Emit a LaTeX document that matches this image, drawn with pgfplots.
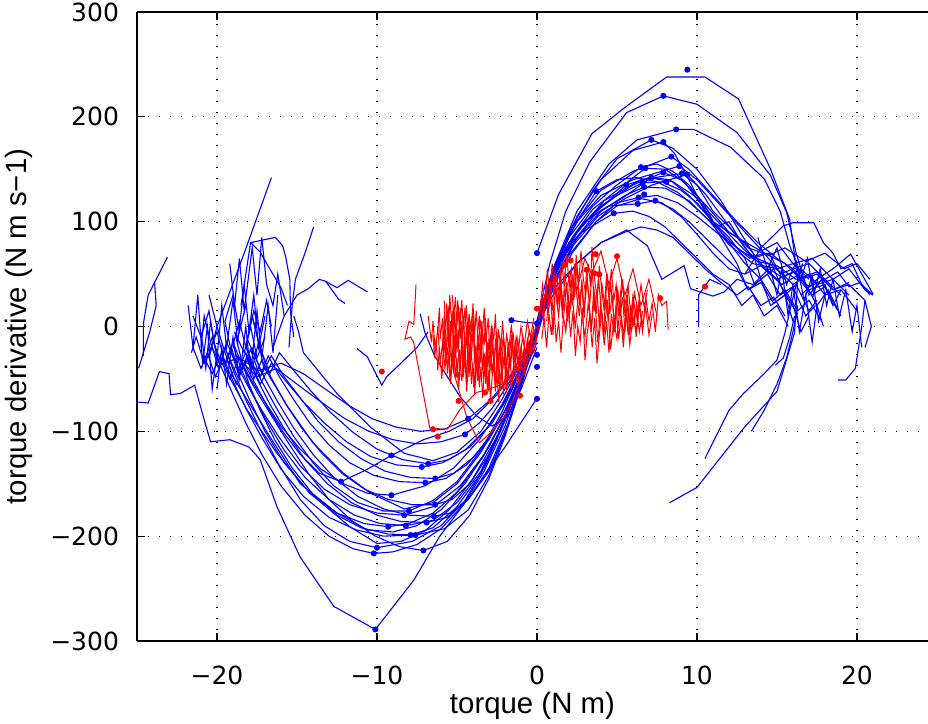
\documentclass[border=0pt]{standalone}
\usepackage{fontspec}
\setmainfont{Liberation Sans}
\newfontfamily\dejavu{DejaVu Sans}
\usepackage{pgfplots}
\pgfplotsset{compat=1.18}
\tikzset{bl/.style={blue, line width=0.55pt, mark=none},
         rd/.style={red, line width=0.5pt, mark=none},
         bdot/.style={only marks, mark=*, mark size=1.3pt, blue, mark options={draw=blue, fill=blue}},
         rdot/.style={only marks, mark=*, mark size=1.3pt, red, mark options={draw=red, fill=red}}}
\begin{document}
\begin{tikzpicture}
\begin{axis}[
  scale only axis, width=395.5pt, height=314.5pt,
  xmin=-25, xmax=24.44, ymin=-300, ymax=300,
  axis x line=box, axis y line=left,
  every outer y axis line/.append style={-},
  every inner y axis line/.append style={-},
  axis line style={-, line width=0.8pt, black},
  xtick={-20,-10,0,10,20}, xticklabels={−20,−10,0,10,20},
  ytick={-300,-200,-100,0,100,200,300}, yticklabels={−300,−200,−100,0,100,200,300},
  tick align=inside, major tick length=4pt, tick style={black, line width=0.6pt},
  ticklabel style={font=\dejavu\fontsize{12.5}{15}\selectfont},
  xticklabel shift=9pt, yticklabel shift=5.5pt,
  grid=major, grid style={black, line width=0.6pt, dash pattern=on 0.6pt off 4.9pt},
  xlabel={torque (N m)}, ylabel={torque derivative (N m s−1)},
  label style={font=\fontsize{14.7}{17}\selectfont},
  xlabel style={at={(axis description cs:0.5,-0.1033)}, anchor=center},
  ylabel style={at={(axis description cs:-0.149,0.5)}, anchor=center},
]
% ---------------- positive arcs (blue)
\addplot[bl] coordinates {(0,70) (1.35,126) (3.44,184) (5.5,209) (8.1,238) (10.5,238) (12.6,217) (14.6,150) (15.8,102) (16.3,45) (16.1,-6) (15,-62) (13,-95.5) (10,-153.5) (8.3,-168)};
\addplot[bl] coordinates {(0,5) (0.8,60) (1.8,110) (3.3,157) (5.6,204) (7.9,220) (10,212) (12.5,185) (14.6,144) (15.6,109) (16.2,70) (16.8,40) (17.5,20) (18.2,35) (19,10)};
\addplot[bl] coordinates {(0,0) (1,55) (2.5,110) (4.5,155) (6.25,178) (8.7,188) (9.8,188) (12.1,171) (14.2,141) (15.2,110) (15.8,77) (16.5,50) (17,30) (17.8,45) (18.5,20) (19,35)};
\addplot[bl] coordinates {(0,-10) (1,45) (2,90) (3.5,130) (5,160) (7.15,178) (8.5,170) (10,150) (11.5,120) (12.5,95) (13.5,70) (14,45) (14.8,55) (15.5,30) (16.2,40) (17,15) (17.5,25)};
\addplot[bl] coordinates {(0,0) (1.2,60) (2.5,105) (4,140) (6,168) (7.9,176) (8.6,165) (9.5,140) (10.5,110) (11.5,85) (12.5,60) (13.2,35) (14,45) (14.6,20) (15.5,30) (16,5)};
\addplot[bl] coordinates {(0,-5) (1,50) (2.2,95) (4,130) (6,148) (8.4,162) (9.5,150) (11,125) (12.5,100) (13.8,80) (15,65) (16,55) (17,60) (18,45) (18.8,52) (19.5,38) (20.2,42) (20.8,30)};
\addplot[bl] coordinates {(0,5) (1,55) (2.5,100) (4,125) (6,140) (8.9,153) (10,140) (11.5,115) (13,90) (14.2,70) (15.5,60) (16.5,45) (17.5,50) (18.5,35) (19.5,40) (20.5,25) (20.9,0) (20.5,-20)};
\addplot[bl] coordinates {(0,0) (1,50) (2,85) (3.5,115) (5,135) (6.5,152) (7.5,155) (8.5,148) (9.5,135) (10.5,115) (11.2,95) (12,100) (12.8,80) (13.5,65) (14.5,70) (15.2,50) (16,55) (17,35) (18,40) (18.5,20)};
\addplot[bl] coordinates {(0,-3) (1,45) (2.2,85) (3.5,112) (5,130) (6.77,151) (8,150) (9.2,138) (10.2,118) (11,100) (12,85) (13,65) (13.6,40) (14.4,50) (15.2,30) (16,38) (16.8,10) (17.4,20)};
\addplot[bl] coordinates {(0,0) (0.8,40) (1.8,75) (3,100) (4.5,120) (5.58,135) (7,142) (8.5,138) (9.8,125) (11,105) (12.2,85) (13.3,68) (14.5,60) (15.5,48) (16.5,55) (17.5,40) (18.5,45) (19.5,30)};
\addplot[bl] coordinates {(0,2) (1,48) (2,80) (3.5,108) (5,125) (6.6,137) (7.8,138) (9,130) (10,118) (11,100) (12,80) (13,60) (14,45) (14.8,25) (15.5,35) (16.3,15) (17,25) (17.8,5)};
\addplot[bl] coordinates {(0,-2) (1,42) (2.5,85) (4,110) (5.5,125) (6.7,133) (8,132) (9.5,120) (10.8,100) (12,78) (13.5,60) (15,55) (16,40) (17,50) (18,30) (19,35) (20,15)};
\addplot[bl] coordinates {(0,0) (1,45) (2.2,80) (3.7,108) (5.3,122) (7.15,142) (8.3,140) (9.5,125) (11,100) (12.5,85) (14,72) (15,80) (16,60) (17.2,65) (18.5,45) (19.5,55) (20.5,35) (21,30)};
\addplot[bl] coordinates {(0,3) (1,45) (2.5,90) (4,115) (6,135) (7.9,147) (9,140) (10,125) (11,108) (12,90) (13,80) (14,60) (15,45) (16,20) (16.5,-5) (17,10)};
\addplot[bl] coordinates {(0,0) (1.1,50) (2.5,90) (4.2,120) (6.5,140) (9.06,146) (10,135) (11,110) (12,95) (13.2,75) (14.5,68) (15.5,75) (16.8,62) (18,70) (19.2,55) (20,60) (20.8,45)};
\addplot[bl] coordinates {(0,-2) (1,40) (2.3,78) (3.8,105) (5.5,122) (7.2,135) (9.4,145) (10.6,125) (11.8,100) (13,75) (14.2,55) (15.3,40) (16.2,48) (17.2,30) (18,38) (18.8,15)};
\addplot[bl] coordinates {(0,0) (0.9,38) (2,68) (3.7,100) (5,118) (6.35,123) (7.5,125) (8.8,118) (10,105) (11.2,90) (12.5,75) (13.8,62) (15,58) (16.2,45) (17.5,52) (18.5,35) (19.5,42)};
\addplot[bl] coordinates {(0,5) (0.8,40) (1.8,75) (3,100) (4.5,115) (6.3,117) (7.4,120) (8.5,112) (9.5,100) (10.5,85) (11.5,70) (12.5,55) (13.2,35) (14,42) (14.8,22) (15.5,30) (16.3,12)};
\addplot[bl] coordinates {(0,0) (0.7,35) (1.6,65) (2.8,90) (4.8,108) (6,110) (7,105) (8,95) (9,80) (10,65) (11,50) (12,40) (12.8,20) (13.5,30) (14.2,10) (15,20) (15.7,0)};
\addplot[bl] coordinates {(0,-4) (1,38) (2.2,70) (3.7,100) (5,115) (6.5,122) (7.8,118) (9,105) (10,88) (11,70) (12,55) (13,50) (14,58) (15,45) (16,52) (17,38) (18,45) (19,30)};
\addplot[bl] coordinates {(0,0) (0.7,40) (1.6,75) (2.7,105) (3.7,129) (5,140) (6.2,142) (7.5,138) (8.8,128) (10,112) (11.2,95) (12.3,78) (13.3,65) (14.2,70) (15,55) (16,60) (17,45)};
\addplot[bl] coordinates {(0,0) (1,35) (2.5,60) (4,80) (5.5,90) (6.5,95) (7.5,92) (8.5,85) (9.5,70) (10.5,55) (11.5,42) (12.5,30) (13.2,38) (14,20) (14.8,28) (15.5,10)};
\addplot[bl] coordinates {(0,0) (1,30) (2.5,60) (4,80) (5.6,92) (6.9,77) (7.8,45) (9.2,58) (9.6,36) (11,29) (11.7,33) (12.5,45) (13.5,40) (14.5,55) (15.5,45)};
\addplot[bl] coordinates {(13,50) (14,75) (15.4,96) (16,99) (17.3,99) (17.9,80) (18.5,70) (19,55) (19.7,60) (20.3,40) (21,30)};
\addplot[bl] coordinates {(16.5,30) (17.5,45) (18.5,55) (19.6,69) (20.3,50) (21,31)};
\addplot[bl] coordinates {(14.5,60) (15,30) (15.3,55) (15.7,10) (16,40) (16.4,-5) (16.8,30) (17.2,-15) (17.5,20) (17.9,0)};
\addplot[bl] coordinates {(16,70) (16.5,45) (16.9,65) (17.3,30) (17.7,55) (18.1,20) (18.5,45) (18.9,10) (19.3,35) (19.7,-5) (20,20) (20.3,-20)};
\addplot[bl] coordinates {(13.8,85) (14.4,55) (15,75) (15.6,40) (16.2,62) (16.7,25) (17.2,48) (17.6,5) (18,30)};
\addplot[bl] coordinates {(10.5,-126) (12,-80) (12.9,-64) (14.2,-45) (15,-32) (15.5,-6) (15.8,15) (16.2,40) (16.6,60)};
\addplot[bl] coordinates {(13.4,-100) (14.2,-80) (15,-55) (15.6,-30) (16,-5) (16.3,20)};
\addplot[bl] coordinates {(18.8,-51) (19.3,-51) (19.9,-40) (20.3,0) (20.5,25)};
\addplot[bl] coordinates {(14.9,-37) (15.4,-30) (15.8,-10) (16.1,10)};
\addplot[bl] coordinates {(10.1,0) (10.1,30) (10.8,45) (11.5,40)};
% ---------------- negative arcs (blue)
\addplot[bl] coordinates {(0,-68.5) (-2,-115) (-4,-158) (-6.1,-200.6) (-7.7,-242) (-10.1,-289) (-12.7,-267) (-14.8,-220) (-16.25,-172) (-17.3,-127) (-18,-115) (-19.2,-108) (-20.4,-110) (-20.8,-89) (-21.4,-56) (-22.3,-64) (-22.9,-65) (-23,-45) (-23.6,-43) (-24.3,-73) (-25,-72)};
\addplot[bl] coordinates {(0,-5) (-1,-52) (-2,-95) (-3.3,-138) (-4.6,-170) (-6,-193) (-7.5,-208) (-9,-215) (-10.2,-216.5) (-11.5,-212) (-13,-200) (-14.5,-180) (-16,-152) (-17.2,-122) (-18.2,-92) (-19,-65) (-19.7,-40) (-20.3,-20) (-20.8,-35) (-21.3,-10) (-21.6,-25)};
\addplot[bl] coordinates {(0,0) (-1,-48) (-2,-90) (-3.2,-132) (-4.5,-166) (-6,-190) (-7.8,-205) (-10,-211) (-11.7,-205) (-13.3,-190) (-14.8,-165) (-16.2,-130) (-17.3,-98) (-18.2,-70) (-18.9,-45) (-19.5,-20) (-19.9,-40) (-20.4,-15) (-20.8,10) (-21,-20)};
\addplot[bl] coordinates {(0,-2) (-1,-55) (-2,-105) (-3,-145) (-4.2,-180) (-5.6,-205) (-7.1,-213.7) (-8.6,-210) (-10.1,-200) (-11.6,-185) (-13,-165) (-14.3,-140) (-15.5,-112) (-16.6,-85) (-17.6,-60) (-18.4,-38) (-19,-15) (-19.5,-35) (-20,-5) (-20.5,-25)};
\addplot[bl] coordinates {(0,0) (-1,-45) (-2,-85) (-3.4,-125) (-5,-158) (-6.5,-178) (-8,-188) (-9.3,-191) (-10.8,-188) (-12.5,-178) (-14.2,-159) (-15.8,-130) (-17,-100) (-17.9,-72) (-18.6,-48) (-19.1,-25) (-19.5,5) (-19,30) (-18.6,-5) (-18.2,20)};
\addplot[bl] coordinates {(0,-4) (-1,-50) (-2.2,-95) (-3.5,-138) (-5,-168) (-6.5,-185) (-8.2,-190) (-9.8,-188) (-11.4,-180) (-13,-165) (-14.5,-144) (-15.8,-118) (-16.9,-90) (-17.8,-64) (-18.5,-40) (-19,-18) (-18.6,5) (-18.2,-20) (-17.8,10) (-17.4,-15)};
\addplot[bl] coordinates {(0,0) (-1,-55) (-2,-102) (-3,-142) (-4.3,-175) (-5.8,-193) (-7.6,-199) (-9.3,-198) (-11,-192) (-12.5,-180) (-14,-160) (-15.3,-135) (-16.4,-108) (-17.3,-80) (-18,-55) (-18.5,-30) (-18.9,-5) (-18.3,-25) (-17.9,0) (-17.5,-30) (-17,-10)};
\addplot[bl] coordinates {(0,-2) (-1,-48) (-2.3,-100) (-3.5,-140) (-5,-172) (-6.5,-192) (-7.9,-199) (-9.6,-200) (-11.3,-194) (-13,-182) (-14.6,-162) (-16,-136) (-17.2,-106) (-18.2,-78) (-19,-52) (-19.6,-30) (-20.1,-48) (-20.6,-25) (-21,-40) (-21.5,-20)};
\addplot[bl] coordinates {(0,0) (-0.8,-45) (-1.8,-92) (-3,-135) (-4.3,-165) (-5.6,-182) (-6.9,-187) (-8.5,-186) (-10,-180) (-11.6,-168) (-13.1,-150) (-14.5,-127) (-15.7,-100) (-16.7,-74) (-17.5,-50) (-18.1,-28) (-18.6,-45) (-19.1,-20) (-19.5,-38)};
\addplot[bl] coordinates {(0,-3) (-0.8,-48) (-1.8,-95) (-3,-138) (-4.3,-165) (-5.4,-178) (-6.45,-181) (-8,-180) (-9.6,-174) (-11.2,-162) (-12.7,-144) (-14,-122) (-15.2,-97) (-16.2,-72) (-17,-50) (-17.6,-30) (-18.1,-12) (-17.7,15) (-17.3,-5) (-16.9,25) (-16.6,0)};
\addplot[bl] coordinates {(0,0) (-1,-45) (-2,-85) (-3.3,-122) (-4.8,-152) (-6.5,-172) (-8.3,-180) (-10,-178) (-11.7,-170) (-13.3,-155) (-14.8,-133) (-16.1,-106) (-17.2,-80) (-18.1,-56) (-18.8,-35) (-19.4,-15) (-19.8,-38) (-20.3,-10) (-20.7,-30)};
\addplot[bl] coordinates {(0,-2) (-1,-40) (-2.2,-82) (-3.5,-118) (-5,-148) (-6.5,-166) (-8,-176) (-9.6,-176) (-11.2,-168) (-12.7,-152) (-14,-130) (-15.2,-105) (-16.2,-80) (-17,-58) (-17.7,-38) (-18.2,-18) (-17.8,-40) (-17.4,-15) (-17,-35)};
\addplot[bl] coordinates {(0,0) (-0.8,-40) (-1.8,-82) (-3,-122) (-4.2,-150) (-5.3,-165) (-6.36,-170) (-7.8,-170) (-9.3,-165) (-10.8,-155) (-12.2,-140) (-13.5,-120) (-14.7,-97) (-15.7,-74) (-16.5,-52) (-17.2,-32) (-17.7,-50) (-18.2,-25) (-18.7,-42)};
\addplot[bl] coordinates {(0,-3) (-1,-38) (-2.2,-75) (-3.6,-108) (-5.2,-135) (-7,-152) (-9.1,-161) (-10.6,-159) (-12.1,-150) (-13.5,-136) (-14.8,-117) (-16,-95) (-17,-72) (-17.9,-50) (-18.6,-30) (-19.2,-50) (-19.7,-25) (-20.3,-45) (-20.8,-30)};
\addplot[bl] coordinates {(0,0) (-1,-35) (-2.5,-65) (-4,-88) (-5.5,-100) (-7.1,-108) (-9.1,-123) (-10.7,-137) (-12.25,-148) (-13.6,-140) (-14.8,-122) (-15.9,-100) (-16.8,-78) (-17.6,-55) (-18.3,-35) (-18.8,-55) (-19.4,-30)};
\addplot[bl] coordinates {(0,0) (-0.8,-38) (-1.8,-75) (-3,-108) (-4.4,-132) (-5.7,-145) (-6.98,-149) (-8.6,-148) (-10.2,-142) (-11.7,-130) (-13,-113) (-14.2,-92) (-15.2,-70) (-16.1,-48) (-16.8,-28) (-17.3,-48) (-17.9,-22) (-18.4,-40)};
\addplot[bl] coordinates {(0,-2) (-0.7,-35) (-1.6,-70) (-2.8,-102) (-4,-125) (-5.2,-140) (-6.36,-145) (-7.9,-144) (-9.5,-138) (-11,-126) (-12.4,-110) (-13.7,-90) (-14.8,-68) (-15.8,-48) (-16.6,-28) (-17.2,-45) (-17.8,-20)};
\addplot[bl] coordinates {(0,0) (-0.8,-32) (-1.8,-65) (-3,-95) (-4.5,-118) (-5.9,-130) (-7.2,-134) (-8.8,-132) (-10.4,-124) (-11.9,-110) (-13.3,-92) (-14.6,-72) (-15.7,-52) (-16.6,-35) (-17.3,-55) (-18,-30) (-18.7,-48) (-19.3,-28)};
\addplot[bl] coordinates {(0,-3) (-0.7,-30) (-1.6,-62) (-2.8,-92) (-4.2,-115) (-5.5,-127) (-6.8,-131) (-8.4,-127) (-10,-117) (-11.5,-101) (-12.9,-82) (-14.1,-62) (-15.2,-42) (-16.1,-25) (-16.7,-45) (-17.3,-20)};
\addplot[bl] coordinates {(0,0) (-0.8,-28) (-1.8,-55) (-2.8,-78) (-3.6,-92) (-4.5,-103) (-6,-110) (-7.5,-112) (-9,-108) (-10.5,-100) (-12,-88) (-13.5,-72) (-15,-55) (-16.3,-40) (-17.5,-48) (-18.7,-30) (-20,-38)};
\addplot[bl] coordinates {(0,0) (-0.8,-25) (-1.8,-50) (-2.9,-70) (-4.3,-88) (-5.8,-98) (-7.3,-100) (-8.8,-96) (-10.3,-88) (-11.8,-75) (-13.2,-60) (-14.6,-45) (-16,-35) (-17.4,-42) (-18.8,-28)};
\addplot[bl] coordinates {(-21.5,10) (-21,-10) (-20.5,15) (-20.2,-15) (-19.8,-32) (-18.1,-80) (-16.25,-121) (-14.2,-159) (-11.7,-191) (-10,-207) (-8.5,-205) (-7,-195) (-5.5,-175) (-4,-145) (-2.5,-105) (-1.2,-60) (0,-10)};
\addplot[bl] coordinates {(-20.5,30) (-20,0) (-19.6,-20) (-19,-48) (-16.7,-105) (-14.8,-150) (-12.5,-178) (-10.6,-194) (-9,-196) (-7.5,-190) (-6,-175) (-4.5,-150) (-3,-115) (-1.5,-70) (0,-15)};
\addplot[bl] coordinates {(-17.8,10) (-17.4,-15) (-17.1,-38) (-15.6,-76) (-14,-111) (-12.1,-140) (-10.4,-159) (-8.3,-174) (-6.5,-168) (-5,-150) (-3.5,-120) (-2,-80) (-1,-45) (0,-5)};
\addplot[bl] coordinates {(-15.2,10) (-14.9,-5) (-14.6,-25) (-12.5,-64) (-10.4,-96) (-8.3,-121) (-6.5,-128) (-5,-120) (-3.5,-100) (-2.2,-70) (-1,-35) (0,0)};
\addplot[bl] coordinates {(-11.25,-21) (-10.6,-29) (-9.7,-56) (-9.4,-48) (-8.5,-35) (-7.5,-20) (-6.8,-5)};
\addplot[bl] coordinates {(-7.3,12) (-7,-6) (-6.4,-28) (-5.6,-48) (-4.8,-67) (-3.8,-85) (-2.8,-95) (-1.8,-85) (-1,-60) (0,-20)};
\addplot[bl] coordinates {(-1.6,6) (-0.8,4) (0,3)};
% ---------------- left cluster (blue)
\addplot[bl] coordinates {(-20.5,-30) (-20,0) (-18.3,70) (-16.6,142)};
\addplot[bl] coordinates {(-15.5,-20) (-15.3,20) (-15.1,45) (-14.5,70) (-13.96,95)};
\addplot[bl] coordinates {(-18.5,20) (-17.9,80) (-16.35,85) (-15.9,77) (-15.7,66) (-15.45,45) (-15.4,13) (-15.2,-10)};
\addplot[bl] coordinates {(-17.9,80) (-17.3,71) (-16.7,55) (-16,37) (-15.6,20)};
\addplot[bl] coordinates {(-24.6,-28) (-24.6,3) (-24.3,30) (-23.9,42) (-23.1,66)};
\addplot[bl] coordinates {(-24.9,-40) (-24.2,-5) (-23.8,20) (-23.9,42)};
\addplot[bl] coordinates {(-16.5,-20) (-15.8,10) (-15,30) (-14.3,36) (-13.6,45) (-13.2,43) (-12.5,37) (-11.8,44) (-10.6,33)};
\addplot[bl] coordinates {(-13.2,43) (-12.4,26) (-12,22)};
\addplot[bl] coordinates {(-21,-5) (-20.7,-40) (-20.4,5) (-20,-30) (-19.7,20) (-19.4,-20) (-19,25) (-18.7,-15) (-18.3,40) (-18,-5) (-17.7,30) (-17.4,-20) (-17,10)};
\addplot[bl] coordinates {(-20,-60) (-19.7,-20) (-19.4,-55) (-19,-10) (-18.6,-50) (-18.2,0) (-17.9,-45) (-17.5,15) (-17.2,-30) (-16.8,20) (-16.5,-25) (-16.2,30)};
\addplot[bl] coordinates {(-19.2,60) (-18.9,20) (-18.6,65) (-18.3,15) (-17.8,75) (-17.5,30) (-17.2,85) (-16.9,40) (-16.5,20) (-16.2,50) (-15.8,10)};
\addplot[bl] coordinates {(-21.8,20) (-21.5,-20) (-21.2,30) (-20.9,-35) (-20.6,0) (-20.3,-60) (-20,-25)};
% ---------------- red trajectories, negative side
\addplot[rd] coordinates {(-6.2,-5) (-6.1,18) (-6.05,-12) (-5.9,8) (-5.85,-30) (-5.7,-2) (-5.65,22) (-5.5,-18) (-5.4,5) (-5.35,-40) (-5.2,-8) (-5.15,14) (-5,-25) (-4.92,-3) (-4.85,-45) (-4.7,-15) (-4.6,10) (-4.5,-32) (-4.42,-5) (-4.3,-22) (-4.25,-48) (-4.1,-12) (-4,6) (-3.9,-35) (-3.82,-18) (-3.7,-52) (-3.6,-20) (-3.5,-8) (-3.42,-40) (-3.3,-25) (-3.2,-55) (-3.1,-15) (-3,-38) (-2.9,-10) (-2.82,-45) (-2.7,-30) (-2.6,-58) (-2.5,-22) (-2.4,-40) (-2.3,-12) (-2.2,-48) (-2.05,-28) (-1.95,-52) (-1.8,-20) (-1.7,-38) (-1.55,-15) (-1.4,-45) (-1.25,-22) (-1.1,-35) (-0.9,-10) (-0.7,-28) (-0.5,-5) (-0.3,-15) (0,5)};
\addplot[rd] coordinates {(-5.8,25) (-5.75,0) (-5.6,12) (-5.55,-22) (-5.45,30) (-5.3,-5) (-5.25,15) (-5.1,-30) (-5.0,8) (-4.95,25) (-4.8,-12) (-4.72,5) (-4.6,-38) (-4.5,0) (-4.42,20) (-4.3,-10) (-4.2,-28) (-4.12,2) (-4,15) (-3.9,-20) (-3.8,-42) (-3.72,-8) (-3.6,10) (-3.5,-30) (-3.4,-5) (-3.3,-18) (-3.22,8) (-3.1,-35) (-3,-12) (-2.9,-28) (-2.8,0) (-2.7,-40) (-2.6,-15) (-2.5,-5) (-2.4,-32) (-2.3,-20) (-2.2,-45) (-2.1,-10) (-1.95,-30) (-1.85,-50) (-1.7,-25) (-1.6,-8) (-1.45,-38) (-1.3,-18) (-1.15,-42) (-1,-20) (-0.8,-35) (-0.6,-12) (-0.4,-25) (-0.2,-5)};
\addplot[rd] coordinates {(-6.5,-8) (-6.4,-30) (-6.3,-12) (-6.2,-42) (-6.1,-20) (-5.95,-50) (-5.85,-28) (-5.7,-10) (-5.6,-45) (-5.5,-22) (-5.4,-55) (-5.3,-35) (-5.2,-18) (-5.1,-50) (-5,-30) (-4.9,-60) (-4.8,-38) (-4.7,-15) (-4.6,-48) (-4.5,-28) (-4.4,-62) (-4.3,-40) (-4.2,-22) (-4.1,-55) (-4,-35) (-3.9,-65) (-3.8,-42) (-3.7,-25) (-3.6,-58) (-3.5,-38) (-3.4,-68) (-3.3,-45) (-3.2,-30) (-3.1,-60) (-3,-42) (-2.9,-70) (-2.8,-48) (-2.7,-35) (-2.6,-62) (-2.5,-45) (-2.4,-72) (-2.3,-50) (-2.2,-38) (-2.1,-65) (-2,-48) (-1.9,-60) (-1.8,-42) (-1.6,-58) (-1.4,-40) (-1.2,-55) (-1,-35) (-0.8,-45) (-0.5,-20) (-0.2,-25) (0,-10)};
\addplot[rd] coordinates {(-5.3,30) (-5.2,10) (-5.1,28) (-5,2) (-4.9,20) (-4.85,-8) (-4.7,25) (-4.6,-2) (-4.5,18) (-4.35,-15) (-4.25,12) (-4.1,-5) (-4,22) (-3.9,-10) (-3.8,15) (-3.65,-20) (-3.55,5) (-3.4,-8) (-3.3,18) (-3.2,-15) (-3.05,8) (-2.95,-22) (-2.85,0) (-2.7,-12) (-2.6,12) (-2.5,-25) (-2.4,-5) (-2.25,-18) (-2.15,5) (-2,-28) (-1.9,-8) (-1.75,-20) (-1.6,2) (-1.45,-30) (-1.3,-10) (-1.15,-22) (-1,0) (-0.8,-18) (-0.6,5) (-0.4,-10) (-0.2,8)};
\addplot[rd] coordinates {(-6.8,10) (-6.6,-15) (-6.5,5) (-6.35,-25) (-6.2,0) (-6.05,-35) (-5.9,-15) (-5.75,-40) (-5.6,-20) (-5.45,-48) (-5.3,-30) (-5.15,-10) (-5,-42) (-4.85,-22) (-4.7,-52) (-4.55,-30) (-4.4,-12) (-4.25,-45) (-4.1,-25) (-3.95,-58) (-3.8,-30) (-3.65,-48) (-3.5,-18) (-3.35,-50) (-3.2,-32) (-3.05,-62) (-2.9,-35) (-2.75,-20) (-2.6,-52) (-2.45,-32) (-2.3,-60) (-2.15,-40) (-2,-25) (-1.85,-55) (-1.7,-35) (-1.55,-50) (-1.4,-28) (-1.2,-45) (-1,-22) (-0.8,-38) (-0.6,-15) (-0.4,-22) (-0.2,0)};
\addplot[rd] coordinates {(-5.9,-40) (-5.8,10) (-5.7,-35) (-5.55,20) (-5.45,-25) (-5.3,15) (-5.2,-45) (-5.05,0) (-4.9,-20) (-4.8,18) (-4.65,-42) (-4.5,-10) (-4.4,-55) (-4.25,5) (-4.1,-30) (-3.95,10) (-3.85,-50) (-3.7,-15) (-3.55,-35) (-3.45,5) (-3.3,-48) (-3.15,-20) (-3,-58) (-2.85,-5) (-2.7,-35) (-2.55,-15) (-2.4,-55) (-2.25,-25) (-2.1,-10) (-1.95,-45) (-1.8,-15) (-1.65,-40) (-1.5,-5) (-1.35,-30) (-1.2,-12) (-1,-40) (-0.8,-20) (-0.6,-30) (-0.3,-8)};
\addplot[rd] coordinates {(-7.56,40) (-7.7,2) (-8.0,5) (-8.25,-12) (-7.9,-10) (-7.7,-15.6) (-6.7,-97) (-5.6,-98) (-4.8,-79) (-3.8,-63) (-3,-60) (-2.2,-55) (-1.5,-45) (-1,-35) (-0.5,-15) (0,0)};
\addplot[rd] coordinates {(-5.6,-10) (-5.2,-44) (-4.4,-86) (-3.6,-111) (-2.8,-100) (-2,-85) (-1.5,-70) (-1,-50) (-0.5,-30) (0,-8)};
% ---------------- red trajectories, positive side
\addplot[rd] coordinates {(0.1,-5) (0.25,25) (0.4,5) (0.55,38) (0.7,12) (0.85,30) (1,-8) (1.15,42) (1.3,18) (1.45,55) (1.6,22) (1.75,35) (1.9,5) (2.05,48) (2.2,20) (2.35,60) (2.5,28) (2.65,10) (2.8,45) (2.95,15) (3.1,52) (3.25,25) (3.4,-5) (3.55,38) (3.7,12) (3.85,45) (4,20) (4.15,-10) (4.3,30) (4.45,5) (4.6,42) (4.75,18) (4.9,-2) (5.05,35) (5.2,10) (5.35,28) (5.5,-5) (5.65,22) (5.8,0) (6,30) (6.2,8) (6.4,25)};
\addplot[rd] coordinates {(0.2,15) (0.35,40) (0.5,22) (0.65,55) (0.8,30) (0.95,60) (1.1,35) (1.25,48) (1.4,20) (1.55,62) (1.7,38) (1.85,70) (2,42) (2.15,55) (2.3,25) (2.45,68) (2.6,40) (2.75,72) (2.9,45) (3.05,30) (3.2,60) (3.35,38) (3.44,76) (3.6,45) (3.75,28) (3.9,58) (4.05,35) (4.2,15) (4.35,50) (4.5,30) (4.65,55) (4.8,25) (4.95,40) (5.1,10) (5.3,45) (5.5,20) (5.7,38) (5.9,5) (6.1,32) (6.3,15) (6.5,40) (6.7,18) (6.9,35)};
\addplot[rd] coordinates {(0.3,-12) (0.45,8) (0.6,-20) (0.75,12) (0.9,-8) (1.05,20) (1.2,-15) (1.35,5) (1.5,-25) (1.65,10) (1.8,-5) (1.95,25) (2.1,-10) (2.25,15) (2.4,-28) (2.55,0) (2.7,-15) (2.85,18) (3,-32) (3.15,-5) (3.3,10) (3.45,-20) (3.6,8) (3.75,-35) (3.9,-8) (4.05,15) (4.2,-18) (4.35,5) (4.5,-25) (4.65,12) (4.8,-5) (4.95,20) (5.1,-12) (5.25,8) (5.4,-20) (5.55,15) (5.7,-8) (5.85,20) (6,0) (6.2,18) (6.4,-5) (6.6,15)};
\addplot[rd] coordinates {(0.6,5) (0.8,35) (0.95,15) (1.1,48) (1.3,25) (1.45,40) (1.6,8) (1.75,52) (1.9,30) (2.05,18) (2.2,50) (2.35,28) (2.5,58) (2.65,20) (2.8,40) (2.95,8) (3.1,48) (3.3,22) (3.45,55) (3.6,15) (3.75,35) (3.9,0) (4.05,42) (4.25,18) (4.4,50) (4.55,12) (4.7,30) (4.85,-5) (5,38) (5.2,15) (5.35,45) (5.5,10) (5.65,30) (5.8,-8) (6,25) (6.2,-10) (6.4,20) (6.6,-5) (6.8,28) (7,5) (7.2,22) (7.4,-5) (7.6,30) (7.8,20) (8.1,24) (8.2,-3)};
\addplot[rd] coordinates {(0.1,8) (0.3,30) (0.45,12) (0.6,40) (0.8,22) (1,45) (1.2,28) (1.35,10) (1.5,35) (1.7,15) (1.85,42) (2,8) (2.2,30) (2.4,-2) (2.6,35) (2.8,12) (3,-10) (3.2,22) (3.4,0) (3.6,30) (3.8,-15) (4,18) (4.2,-5) (4.4,25) (4.6,-22) (4.8,5) (5,-12) (5.2,20) (5.4,-8) (5.6,15) (5.8,-18) (6,10) (6.2,-5) (6.4,22) (6.6,2) (6.8,18) (7,-8) (7.2,12)};
\addplot[rd] coordinates {(1.5,20) (2,45) (2.5,35) (3,65) (3.4,50) (4,72) (4.5,40) (5,65) (5.5,30) (6,55) (6.5,20) (7,45) (7.5,10)};
% ---------------- dots
\addplot[bdot] coordinates {(9.4,245) (7.9,220) (8.7,188) (7.15,178) (7.9,176) (8.4,162) (8.9,153) (6.5,152) (6.77,151) (5.58,135) (6.6,137) (6.7,133) (8.1,138) (7.15,142) (7.9,147) (9.06,146) (9.4,145) (3.7,129) (6.35,123) (6.7,126) (6.3,117) (7.4,120) (4.8,108)
 (0,70) (-1.6,6) (0,3) (0,-27) (0,-38.5) (0,-69)
 (-10.2,-216.5) (-10,-211) (-7.1,-213.7) (-9.3,-191) (-8.2,-190) (-7.9,-199) (-7.6,-199) (-6.9,-187) (-6.45,-181) (-8.3,-180) (-8,-176) (-6.36,-170) (-9.1,-161) (-12.25,-148) (-6.98,-149) (-6.36,-145) (-7.2,-134) (-6.8,-131) (-9.1,-123) (-4.5,-103) (-4.3,-88) (-10.1,-289)};
\addplot[rdot] coordinates {(-9.7,-43) (-6.5,-98) (-6.2,-105) (-4.9,-71) (-2.9,-71) (-3.25,-63) (-1.06,-66) (-4.96,-46) (0,17) (1.75,59) (2.1,63) (3.1,54) (3.6,50.6) (3.9,49.7) (3.67,69) (5,67) (7.7,27) (10.5,38)};
\coordinate (sw) at (rel axis cs:0,0);
\coordinate (ne) at (rel axis cs:1,1);
\end{axis}
\pgfresetboundingbox
\path[use as bounding box] ([shift={(-68.5pt,-41.5pt)}]sw) rectangle ([shift={(0pt,6pt)}]ne);
\end{tikzpicture}
\end{document}
